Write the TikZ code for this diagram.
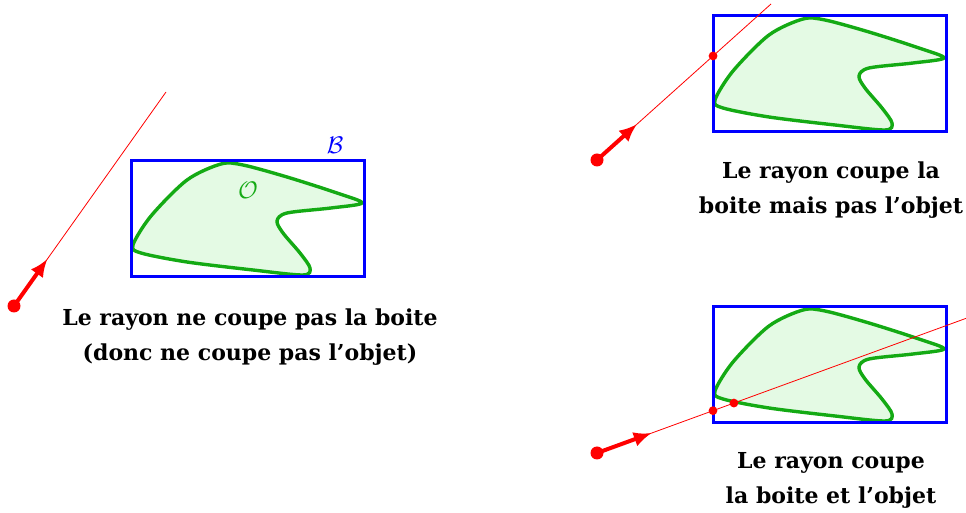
\documentclass[tikz,border=0pt]{standalone}
\usepackage{fontspec}
\setmainfont{DejaVu Serif}
\usetikzlibrary{calc,arrows.meta}
\definecolor{bleuboite}{RGB}{0,0,255}
\definecolor{vertobjet}{RGB}{20,170,20}
\definecolor{vertfond}{RGB}{228,250,228}
\definecolor{rougerayon}{RGB}{255,0,0}
\tikzset{
  boite/.style={draw=bleuboite,line width=1.5pt},
  objet/.style={draw=vertobjet,fill=vertfond,line width=1.7pt},
  rayon/.style={draw=rougerayon,line width=0.4pt},
  fleche/.style={draw=rougerayon,line width=2pt,-{Latex[length=9pt,width=7.5pt]}},
  depart/.style={circle,fill=rougerayon,inner sep=0pt,minimum size=6.5pt},
  impact/.style={circle,fill=rougerayon,inner sep=0pt,minimum size=4.4pt},
  legende/.style={align=center,font=\bfseries\fontsize{11}{17.5}\selectfont}
}
% boite englobante + objet, coin haut-gauche en (0,0)
\newcommand{\BoiteObjet}{%
  \draw[objet] plot[smooth cycle,tension=0.5] coordinates {
    (2,84) (20,55) (56,19) (90,3) (112,4) (156,16) (206,32) (231,42)
    (200,47) (156,52) (146,60) (152,72) (169,92) (179,107) (172,114)
    (122,109) (56,101) (10,92)};
  \draw[boite] (0,0) rectangle (233,116);}

\begin{document}
\begin{tikzpicture}[x=0.5pt,y=-0.5pt]
  \useasboundingbox (0,0) rectangle (966,513);
  % rayon qui manque la boite
  \begin{scope}[shift={(131,161)}]
    \BoiteObjet
    \node[text=bleuboite,font=\large] (B) at (204,-16) {$\mathcal{B}$};
    \node[text=vertobjet,font=\large] (O) at (117,29) {$\mathcal{O}$};
  \end{scope}
  \node[depart] (s1) at (14,306) {};
  \coordinate (e1) at (166,92);
  \coordinate (a1) at ($(s1)!0.22!(e1)$);
  \draw[rayon] (s1) -- (e1);
  \draw[fleche] (s1.center) -- (a1);
  \node[legende] (t1) at (250,337) {Le rayon ne coupe pas la boite\\(donc ne coupe pas l’objet)};
  % rayon qui coupe la boite seulement
  \begin{scope}[shift={(713,16)}]
    \BoiteObjet
  \end{scope}
  \node[depart] (s2) at (597,160) {};
  \coordinate (e2) at (771,4);
  \coordinate (a2) at ($(s2)!0.23!(e2)$);
  \draw[rayon] (s2) -- (e2);
  \draw[fleche] (s2.center) -- (a2);
  \node[impact] (h2) at ($(s2)!0.667!(e2)$) {};
  \node[legende] (t2) at (831,190) {Le rayon coupe la\\boite mais pas l’objet};
  % rayon qui coupe la boite et l'objet
  \begin{scope}[shift={(713,307)}]
    \BoiteObjet
  \end{scope}
  \node[depart] (s3) at (597,453) {};
  \coordinate (e3) at (967,318);
  \coordinate (a3) at ($(s3)!0.148!(e3)$);
  \draw[rayon] (s3) -- (e3);
  \draw[fleche] (s3.center) -- (a3);
  \node[impact] (h3) at ($(s3)!0.3135!(e3)$) {};
  \node[impact] (h4) at ($(s3)!0.37!(e3)$) {};
  \node[legende] (t3) at (831,480) {Le rayon coupe\\la boite et l’objet};
\end{tikzpicture}
\end{document}
